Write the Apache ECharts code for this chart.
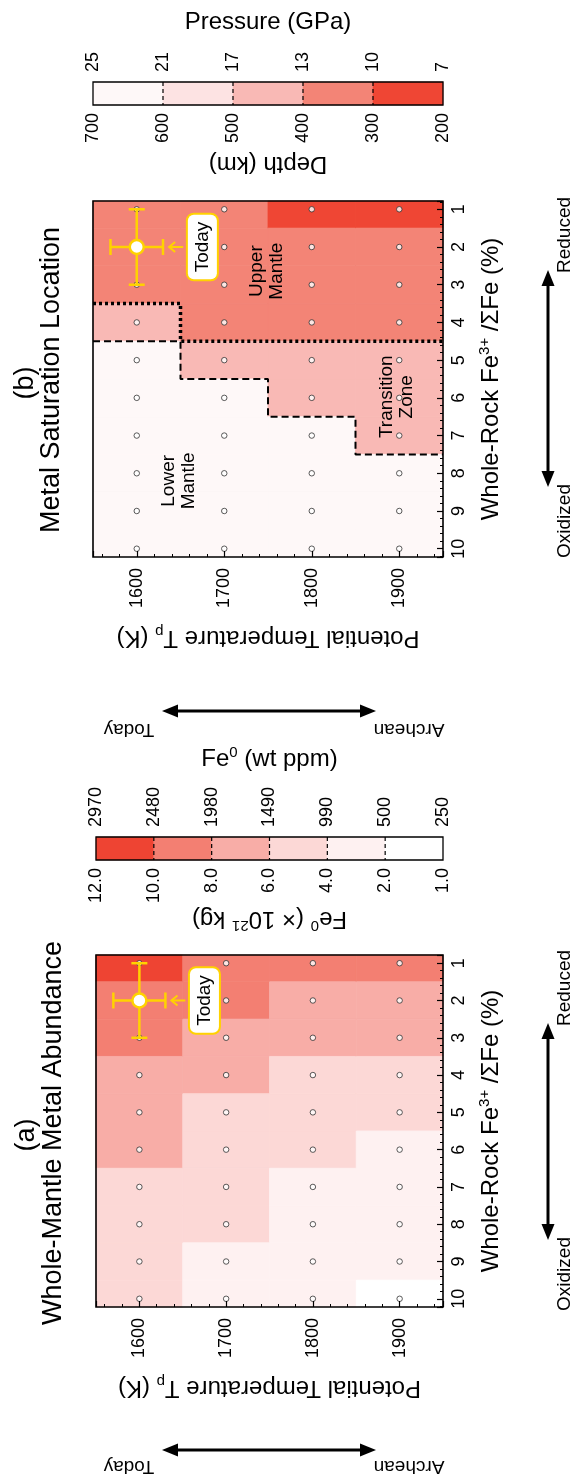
<!DOCTYPE html>
<html>
<head>
<meta charset="utf-8">
<script src="https://cdn.jsdelivr.net/npm/echarts@6/dist/echarts.min.js"></script>
<style>
html,body{margin:0;padding:0;background:#fff;}
#chart{width:574px;height:1482px;}
</style>
</head>
<body>
<div id="chart"></div>
<script>
// ---------------- data ----------------
const temps = [1600, 1700, 1800, 1900];            // potential temperature Tp (K)
const fe3 = [1, 2, 3, 4, 5, 6, 7, 8, 9, 10];       // whole-rock Fe3+/ΣFe (%)

// Panel (a): whole-mantle Fe0 mass (x10^21 kg), one array per Tp, Fe3+ = 1..10
const fe0Mass1600 = [10.8, 9.6, 8.4, 7.5, 6.9, 6.2, 5.6, 5.1, 4.6, 4.2];
const fe0Mass1700 = [9.4, 8.2, 7.3, 6.3, 5.7, 5.1, 4.6, 4.1, 3.7, 3.3];
const fe0Mass1800 = [8.6, 7.6, 6.5, 5.8, 5.0, 4.3, 3.9, 3.4, 3.0, 2.6];
const fe0Mass1900 = [8.2, 7.1, 6.1, 5.4, 4.3, 3.8, 3.2, 2.7, 2.2, 1.9];

// Panel (b): metal saturation depth (km), one array per Tp, Fe3+ = 1..10
const satDepth1600 = [340, 360, 380, 430, 640, 650, 660, 670, 680, 690];
const satDepth1700 = [310, 330, 360, 390, 460, 620, 640, 660, 670, 680];
const satDepth1800 = [280, 310, 340, 370, 430, 480, 610, 630, 650, 665];
const satDepth1900 = [250, 305, 330, 360, 410, 450, 490, 610, 630, 650];

// colour-bar tick labels
const pressureTicks = ['25', '21', '17', '13', '10', '7'];
const depthTicks = ['700', '600', '500', '400', '300', '200'];
const ppmTicks = ['2970', '2480', '1980', '1490', '990', '500', '250'];
const massTicks = ['12.0', '10.0', '8.0', '6.0', '4.0', '2.0', '1.0'];

// band edges of the colour bars
const massEdges = [12, 10, 8, 6, 4, 2, 1];
const depthEdges = [700, 600, 500, 400, 300, 200];
const massColors = ['#EE4433', '#F37F72', '#F8ADA7', '#FCD8D6', '#FEF1F1', '#FFFFFF'];
const depthColors = ['#FEF8F8', '#FDE3E3', '#F9B9B5', '#F38476', '#EF4634'];

// present-day estimate: Tp, Fe3+, ±Tp, ±Fe3+
const todayEstimate = [1600, 2, 30, 1];
const todayArrow = [1653, 1637];   // small pointer from label to estimate (Tp)

// region boundaries in panel (b)
const lowerTzBoundary = [[1550, 4.5], [1650, 4.5], [1650, 5.5], [1750, 5.5], [1750, 6.5], [1850, 6.5], [1850, 7.5], [1950, 7.5]];
const upperTzBoundary = [[1550, 3.5], [1650, 3.5], [1650, 4.5], [1950, 4.5]];

// in-plot labels [Tp, Fe3+, text]
const notesB = [[1749, 2.64, 'Upper\nMantle'], [1897, 5.97, 'Transition\nZone'], [1648, 8.2, 'Lower\nMantle']];
const todayLabel = [1675, 2, 'Today'];

// ---------------- helpers ----------------
const FONT = '"Liberation Sans", Arial, Helvetica, sans-serif';
const GOLD = '#FFD200';
const TICK_FONT = 18;

const RICH = {
  n: { fontSize: 24, lineHeight: 28, fontFamily: FONT, color: '#000' },
  sup: { fontSize: 15, lineHeight: 15, verticalAlign: 'top', fontFamily: FONT, color: '#000' },
  sub: { fontSize: 15, lineHeight: 15, verticalAlign: 'bottom', fontFamily: FONT, color: '#000' }
};

function cells(arrs) {
  const out = [];
  arrs.forEach((arr, ti) => arr.forEach((v, fi) => out.push([temps[ti], fe3[fi], v])));
  return out;
}
function gridDots() {
  const out = [];
  temps.forEach(t => fe3.forEach(f => out.push([t, f])));
  return out;
}
function bands(edges) {
  const out = [];
  for (let i = 0; i < edges.length - 1; i++) out.push([i, i + 1, (edges[i] + edges[i + 1]) / 2]);
  return out;
}
function pieces(edges, colors) {
  const out = [];
  for (let i = 0; i < edges.length - 1; i++) {
    const lo = Math.min(edges[i], edges[i + 1]), hi = Math.max(edges[i], edges[i + 1]);
    out.push({ gte: lo, lt: hi + (i === 0 ? 1e-9 : 0), color: colors[i] });
  }
  return out;
}

function cellItem(params, api) {
  const t = api.value(0), f = api.value(1);
  const p0 = api.coord([t - 50, f - 0.5]);
  const p1 = api.coord([t + 50, f + 0.5]);
  const cs = params.coordSys;
  const rect = echarts.graphic.clipRectByRect(
    { x: Math.min(p0[0], p1[0]), y: Math.min(p0[1], p1[1]), width: Math.abs(p1[0] - p0[0]), height: Math.abs(p1[1] - p0[1]) },
    { x: cs.x, y: cs.y, width: cs.width, height: cs.height });
  if (!rect) return;
  const c = api.visual('color');
  return { type: 'rect', shape: rect, style: { fill: c, stroke: c, lineWidth: 0.8 } };
}

function bandItem(params, api) {
  const x0 = api.value(0), x1 = api.value(1);
  const p0 = api.coord([x0, 0]), p1 = api.coord([x1, 1]);
  const c = api.visual('color');
  const children = [{ type: 'rect', shape: { x: p0[0], y: p1[1], width: p1[0] - p0[0], height: p0[1] - p1[1] }, style: { fill: c, stroke: c, lineWidth: 0.5 } }];
  if (x0 > 0) children.push({ type: 'line', shape: { x1: p0[0], y1: p1[1], x2: p0[0], y2: p0[1] }, style: { stroke: '#000', lineWidth: 1.2, lineDash: [4, 3] } });
  return { type: 'group', children };
}

function todayItem(params, api) {
  const t = api.value(0), f = api.value(1), dt = api.value(2), df = api.value(3);
  const c = api.coord([t, f]);
  const l = api.coord([t - dt, f]), r = api.coord([t + dt, f]);
  const u = api.coord([t, f - df]), d = api.coord([t, f + df]);
  const a0 = api.coord([todayArrow[0], f]), a1 = api.coord([todayArrow[1], f]);
  const st = { stroke: GOLD, lineWidth: 2.5, fill: null };
  const cap = 8;
  const ln = (x1, y1, x2, y2) => ({ type: 'line', shape: { x1, y1, x2, y2 }, style: st });
  return {
    type: 'group', children: [
      ln(l[0], l[1], r[0], r[1]), ln(u[0], u[1], d[0], d[1]),
      ln(l[0], l[1] - cap, l[0], l[1] + cap), ln(r[0], r[1] - cap, r[0], r[1] + cap),
      ln(u[0] - cap, u[1], u[0] + cap, u[1]), ln(d[0] - cap, d[1], d[0] + cap, d[1]),
      { type: 'circle', shape: { cx: c[0], cy: c[1], r: 7 }, style: { fill: '#fff', stroke: GOLD, lineWidth: 2.5 } },
      { type: 'line', shape: { x1: a0[0], y1: a0[1], x2: a1[0], y2: a1[1] }, style: { stroke: GOLD, lineWidth: 2 } },
      { type: 'polyline', shape: { points: [[a1[0] + 6, a1[1] - 5], [a1[0], a1[1]], [a1[0] + 6, a1[1] + 5]] }, style: { stroke: GOLD, lineWidth: 2, fill: null } }
    ]
  };
}

function cbTop(gi, ticks, n, name, gap) {
  return {
    gridIndex: gi, type: 'value', position: 'top', min: 0, max: n, interval: 1, z: 8,
    axisLine: { show: false }, axisTick: { show: false }, splitLine: { show: false },
    axisLabel: { rotate: 90, margin: 10, fontSize: TICK_FONT, fontFamily: FONT, color: '#000', showMinLabel: true, showMaxLabel: true,
      formatter: v => { const s = ticks[Math.round(v)]; return s === undefined ? '' : s; } },
    name, nameLocation: 'middle', nameGap: gap, nameRotate: 0,
    nameTextStyle: { fontSize: 24, fontFamily: FONT, color: '#000', rich: RICH }
  };
}
function cbBottom(gi, ticks, n, name, gap) {
  const a = cbTop(gi, ticks, n, name, gap);
  a.position = 'bottom';
  a.axisLabel.margin = 8;
  a.nameRotate = 180;
  return a;
}
function plotX(gi) {
  return {
    gridIndex: gi, type: 'value', position: 'bottom', min: 1550, max: 1950, minInterval: 100, maxInterval: 100, z: 8,
    axisLine: { show: false },
    axisTick: { show: true, inside: true, length: 6, lineStyle: { color: '#000', width: 1.2 } },
    minorTick: { show: true, splitNumber: 5, length: 3, lineStyle: { color: '#000', width: 1 } },
    splitLine: { show: false }, minorSplitLine: { show: false },
    axisLabel: { rotate: 90, margin: 11, fontSize: TICK_FONT, fontFamily: FONT, color: '#000', showMinLabel: true, showMaxLabel: true,
      formatter: v => (Math.abs(v % 100) < 1e-6 && v >= 1600 && v <= 1900) ? String(Math.round(v)) : '' },
    name: '{n|Potential Temperature T}{sub|p}{n| (K)}', nameLocation: 'middle', nameGap: 67, nameRotate: 180,
    nameTextStyle: { fontSize: 24, fontFamily: FONT, color: '#000', rich: RICH }
  };
}
function plotY(gi) {
  return {
    gridIndex: gi, type: 'value', position: 'right', inverse: true, min: 0.78, max: 10.22, minInterval: 1, maxInterval: 1, z: 8,
    axisLine: { show: false },
    axisTick: { show: true, inside: true, length: 6, lineStyle: { color: '#000', width: 1.2 } },
    minorTick: { show: true, splitNumber: 5, length: 3, lineStyle: { color: '#000', width: 1 } },
    splitLine: { show: false }, minorSplitLine: { show: false },
    axisLabel: { rotate: 90, margin: 7, fontSize: TICK_FONT, fontFamily: FONT, color: '#000', showMinLabel: true, showMaxLabel: true,
      formatter: v => (Math.abs(v - Math.round(v)) < 1e-6 && v >= 1 && v <= 10) ? String(Math.round(v)) : '' },
    name: '{n|Whole-Rock Fe}{sup|3+}{n| /ΣFe (%)}', nameLocation: 'middle', nameGap: 34, nameRotate: 90,
    nameTextStyle: { fontSize: 24, fontFamily: FONT, color: '#000', rich: RICH }
  };
}
function cbY(gi) { return { gridIndex: gi, type: 'value', min: 0, max: 1, show: false }; }

function gridBox(left, top, width, height, bw) {
  return { left, top, width, height, show: true, borderColor: '#000', borderWidth: bw, backgroundColor: 'transparent', z: 7, containLabel: false, outerBoundsMode: 'none' };
}

function noteSeries(xi, yi, items, withToday) {
  const data = items.map(n => ({ value: [n[0], n[1]], label: { formatter: n[2] } }));
  if (withToday) data.unshift({
    value: [todayLabel[0], todayLabel[1]],
    label: { formatter: todayLabel[2], backgroundColor: '#fff', borderColor: GOLD, borderWidth: 2, borderRadius: 6, padding: [5, 7, 4, 7] }
  });
  return {
    type: 'scatter', xAxisIndex: xi, yAxisIndex: yi, symbolSize: 1, z: 6, silent: true,
    itemStyle: { color: 'rgba(0,0,0,0)' },
    label: { show: true, position: 'inside', rotate: 90, fontSize: 19, lineHeight: 20, fontFamily: FONT, color: '#000', opacity: 1 },
    data
  };
}

// decorative arrows and titles
function gText(x, y, text, size, rot) {
  return { type: 'text', x, y, rotation: rot, z: 10, silent: true,
    style: { text, fontSize: size, fontFamily: FONT, fill: '#000', align: 'center', verticalAlign: 'middle', textAlign: 'center', textVerticalAlign: 'middle' } };
}
function hArrow(x1, x2, y) {
  const L = 16, W = 6.5;
  return [
    { type: 'line', z: 10, silent: true, shape: { x1: x1 + L - 2, y1: y, x2: x2 - L + 2, y2: y }, style: { stroke: '#000', lineWidth: 3 } },
    { type: 'polygon', z: 10, silent: true, shape: { points: [[x1, y], [x1 + L, y - W], [x1 + L, y + W]] }, style: { fill: '#000' } },
    { type: 'polygon', z: 10, silent: true, shape: { points: [[x2, y], [x2 - L, y - W], [x2 - L, y + W]] }, style: { fill: '#000' } }
  ];
}
function vArrow(x, y1, y2) {
  const L = 16, W = 6.5;
  return [
    { type: 'line', z: 10, silent: true, shape: { x1: x, y1: y1 + L - 2, x2: x, y2: y2 - L + 2 }, style: { stroke: '#000', lineWidth: 3 } },
    { type: 'polygon', z: 10, silent: true, shape: { points: [[x, y1], [x - W, y1 + L], [x + W, y1 + L]] }, style: { fill: '#000' } },
    { type: 'polygon', z: 10, silent: true, shape: { points: [[x, y2], [x - W, y2 - L], [x + W, y2 - L]] }, style: { fill: '#000' } }
  ];
}

const graphics = [
  gText(26, 383, '(b)', 27, Math.PI / 2),
  gText(52, 380, 'Metal Saturation Location', 27, Math.PI / 2),
  gText(27, 1135, '(a)', 27, Math.PI / 2),
  gText(54, 1133, 'Whole-Mantle Metal Abundance', 27, Math.PI / 2),
  ...hArrow(162, 376, 711),
  gText(129, 729, 'Today', 19, Math.PI),
  gText(409, 729, 'Archean', 19, Math.PI),
  ...vArrow(548, 270, 487),
  gText(565, 235, 'Reduced', 19, Math.PI / 2),
  gText(565, 521, 'Oxidized', 19, Math.PI / 2),
  ...hArrow(162, 376, 1450),
  gText(129, 1466, 'Today', 19, Math.PI),
  gText(409, 1466, 'Archean', 19, Math.PI),
  ...vArrow(548, 1023, 1240),
  gText(565, 988, 'Reduced', 19, Math.PI / 2),
  gText(565, 1274, 'Oxidized', 19, Math.PI / 2)
];

const option = {
  animation: false,
  backgroundColor: '#fff',
  textStyle: { fontFamily: FONT },
  grid: [
    gridBox(93, 82, 350, 23, 1.3),    // colour bar (b)
    gridBox(93, 201, 350, 356, 1.6),  // panel (b)
    gridBox(96, 837, 347, 23, 1.3),   // colour bar (a)
    gridBox(96, 955, 347, 352, 1.6)   // panel (a)
  ],
  xAxis: [
    cbTop(0, pressureTicks, 5, 'Pressure (GPa)', 48),
    cbBottom(0, depthTicks, 5, 'Depth (km)', 47),
    plotX(1),
    cbTop(2, ppmTicks, 6, '{n|Fe}{sup|0}{n| (wt ppm)}', 64),
    cbBottom(2, massTicks, 6, '{n|Fe}{sup|0}{n| (× 10}{sup|21}{n| kg)}', 42),
    plotX(3)
  ],
  yAxis: [cbY(0), plotY(1), cbY(2), plotY(3)],
  visualMap: [
    { type: 'piecewise', show: false, dimension: 2, seriesIndex: [0, 1], pieces: pieces(depthEdges, depthColors) },
    { type: 'piecewise', show: false, dimension: 2, seriesIndex: [7, 8], pieces: pieces(massEdges, massColors) }
  ],
  series: [
    // 0 cells (b)
    { type: 'custom', xAxisIndex: 2, yAxisIndex: 1, renderItem: cellItem, encode: { x: 0, y: 1 }, z: 1, silent: true,
      data: cells([satDepth1600, satDepth1700, satDepth1800, satDepth1900]) },
    // 1 colour bar (b)
    { type: 'custom', xAxisIndex: 1, yAxisIndex: 0, renderItem: bandItem, z: 1, silent: true, data: bands(depthEdges) },
    // 2 lower-mantle / transition-zone boundary
    { type: 'line', xAxisIndex: 2, yAxisIndex: 1, data: lowerTzBoundary, symbol: 'none', z: 3, silent: true,
      lineStyle: { color: '#000', width: 2, type: [7, 4] } },
    // 3 upper-mantle / transition-zone boundary
    { type: 'line', xAxisIndex: 2, yAxisIndex: 1, data: upperTzBoundary, symbol: 'none', z: 3, silent: true,
      lineStyle: { color: '#000', width: 3.5, type: [3, 3], cap: 'butt' } },
    // 4 model grid points (b)
    { type: 'scatter', xAxisIndex: 2, yAxisIndex: 1, data: gridDots(), symbolSize: 5.5, z: 4, silent: true,
      itemStyle: { color: '#fff', borderColor: '#333', borderWidth: 1 } },
    // 5 today estimate (b)
    { type: 'custom', xAxisIndex: 2, yAxisIndex: 1, renderItem: todayItem, z: 5, silent: true, data: [todayEstimate] },
    // 6 labels (b)
    noteSeries(2, 1, notesB, true),
    // 7 cells (a)
    { type: 'custom', xAxisIndex: 5, yAxisIndex: 3, renderItem: cellItem, encode: { x: 0, y: 1 }, z: 1, silent: true,
      data: cells([fe0Mass1600, fe0Mass1700, fe0Mass1800, fe0Mass1900]) },
    // 8 colour bar (a)
    { type: 'custom', xAxisIndex: 4, yAxisIndex: 2, renderItem: bandItem, z: 1, silent: true, data: bands(massEdges) },
    // 9 model grid points (a)
    { type: 'scatter', xAxisIndex: 5, yAxisIndex: 3, data: gridDots(), symbolSize: 5.5, z: 4, silent: true,
      itemStyle: { color: '#fff', borderColor: '#333', borderWidth: 1 } },
    // 10 today estimate (a)
    { type: 'custom', xAxisIndex: 5, yAxisIndex: 3, renderItem: todayItem, z: 5, silent: true, data: [todayEstimate] },
    // 11 labels (a)
    noteSeries(5, 3, [], true)
  ],
  graphic: graphics
};

const chart = echarts.init(document.getElementById('chart'), null, { renderer: 'canvas' });
chart.setOption(option);
</script>
</body>
</html>
